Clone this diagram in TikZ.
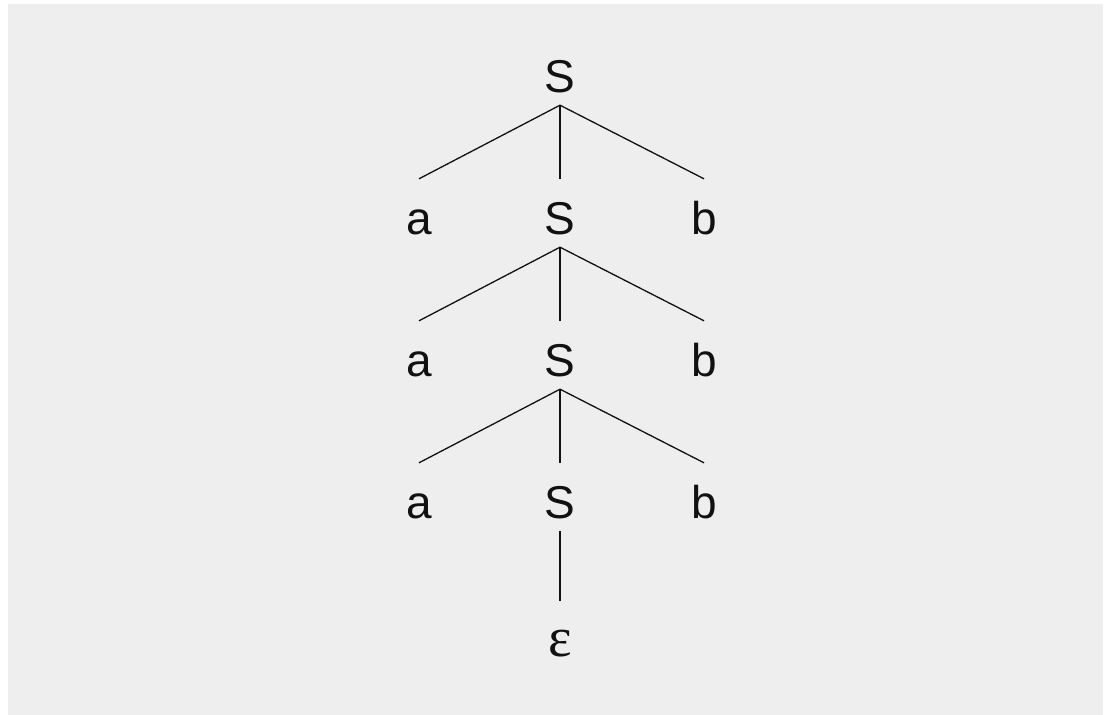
\documentclass[tikz,border=0pt]{standalone}
\usepackage{fontspec}
\setmainfont{Liberation Sans}
\newfontfamily\serifgreek{Liberation Serif}
\definecolor{bggray}{HTML}{EEEEEE}
\definecolor{ink}{HTML}{111111}
\begin{document}
\begin{tikzpicture}[x=1pt,y=-1pt,
  sym/.style={anchor=base,inner sep=0pt,text height=55pt,text depth=13pt,
    font=\fontsize{46}{50}\selectfont,text=ink},
  eps/.style={sym,font=\serifgreek\fontsize{56}{60}\selectfont},
  edge/.style={draw=ink,line width=1.3pt}]
\useasboundingbox (0,0) rectangle (1106,715);
\fill[white] (0,0) rectangle (1106,715);
\fill[bggray] (8,4) rectangle (1103,716);
\node[sym] (s0) at (560,92) {S};
\node[sym] (a1) at (419,234) {a};
\node[sym] (s1) at (560,234) {S};
\node[sym] (b1) at (704,234) {b};
\node[sym] (a2) at (419,376) {a};
\node[sym] (s2) at (560,376) {S};
\node[sym] (b2) at (704,376) {b};
\node[sym] (a3) at (419,518) {a};
\node[sym] (s3) at (560,518) {S};
\node[sym] (b3) at (704,518) {b};
\node[eps] (e) at (560,656) {ε};
\foreach \p/\k in {s0/1,s1/2,s2/3}{
  \draw[edge] (\p.south) -- (a\k.north);
  \draw[edge] (\p.south) -- (s\k.north);
  \draw[edge] (\p.south) -- (b\k.north);
}
\draw[edge] (s3.south) -- (e.north);
\end{tikzpicture}
\end{document}
